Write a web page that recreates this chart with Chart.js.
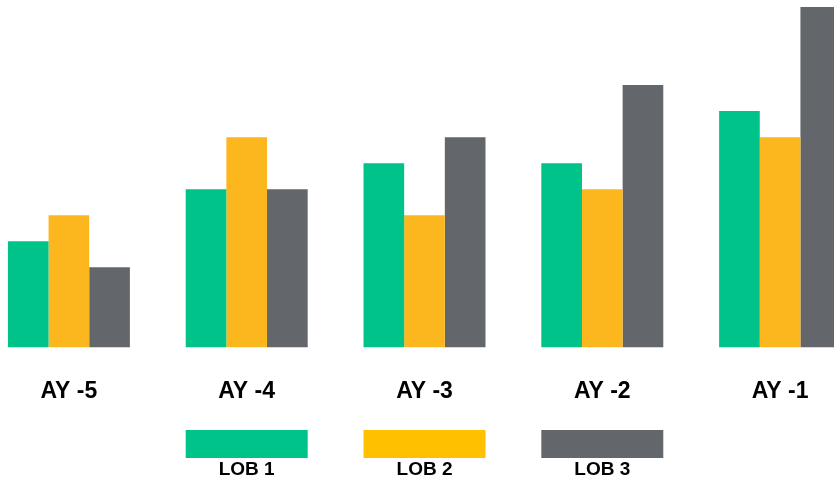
<!DOCTYPE html>
<html lang="en">
<head>
  <meta charset="UTF-8">
  <title>LOB by Accident Year</title>
  <script src="https://cdn.jsdelivr.net/npm/chart.js"></script>
  <style>
    html, body {
      margin: 0;
      padding: 0;
      background: #ffffff;
      overflow: hidden;
      width: 834px;
      height: 481px;
    }
    .chart-wrap {
      position: absolute;
      left: -20px;
      top: 0;
      width: 889px;
      height: 481px;
    }
  </style>
</head>
<body>
  <div class="chart-wrap">
    <canvas id="myChart"></canvas>
  </div>

  <script>
    // Accident years and line-of-business values
    const years = ['AY -5', 'AY -4', 'AY -3', 'AY -2', 'AY -1'];
    const lob1 = [4, 6, 7, 7, 9];
    const lob2 = [5, 8, 5, 6, 8];
    const lob3 = [3, 6, 8, 10, 13];
    const seriesNames = ['LOB 1', 'LOB 2', 'LOB 3'];

    const barColors = ['#00C389', '#FDB71E', '#63666A'];
    const keyColors = ['#00C389', '#FFC000', '#63666A'];

    const yMin = -0.08;

    // Legend drawn under the middle three groups: swatch above, name below
    const bottomLegend = {
      id: 'bottomLegend',
      afterDraw(chart) {
        const ctx = chart.ctx;
        const metaFirst = chart.getDatasetMeta(0);
        const metaLast = chart.getDatasetMeta(2);
        ctx.save();
        seriesNames.forEach((name, i) => {
          const a = metaFirst.data[i + 1];
          const b = metaLast.data[i + 1];
          const x0 = a.x - a.width / 2;
          const x1 = b.x + b.width / 2;
          ctx.fillStyle = keyColors[i];
          ctx.fillRect(x0, 430, x1 - x0, 28);
          ctx.fillStyle = '#000000';
          ctx.font = 'bold 19px "Liberation Sans", Arial, sans-serif';
          ctx.textAlign = 'center';
          ctx.textBaseline = 'middle';
          ctx.fillText(name, (x0 + x1) / 2, 470);
        });
        ctx.restore();
      }
    };

    const ctx = document.getElementById('myChart').getContext('2d');
    const myChart = new Chart(ctx, {
      type: 'bar',
      data: {
        labels: years,
        datasets: [
          { label: seriesNames[0], data: lob1, backgroundColor: barColors[0] },
          { label: seriesNames[1], data: lob2, backgroundColor: barColors[1] },
          { label: seriesNames[2], data: lob3, backgroundColor: barColors[2] }
        ]
      },
      options: {
        responsive: true,
        maintainAspectRatio: false,
        animation: false,
        base: yMin,
        categoryPercentage: 0.686,
        barPercentage: 1,
        layout: { padding: { left: 0, right: 0, top: 0, bottom: 46 } },
        plugins: {
          legend: { display: false },
          tooltip: { enabled: false }
        },
        scales: {
          x: {
            grid: { display: false, drawTicks: false },
            border: { display: false },
            ticks: {
              color: '#000000',
              padding: 30,
              font: { family: '"Liberation Sans", Arial, sans-serif', size: 23, weight: 'bold' }
            }
          },
          y: {
            display: false,
            min: yMin,
            max: 13.27
          }
        }
      },
      plugins: [bottomLegend]
    });
  </script>
</body>
</html>
